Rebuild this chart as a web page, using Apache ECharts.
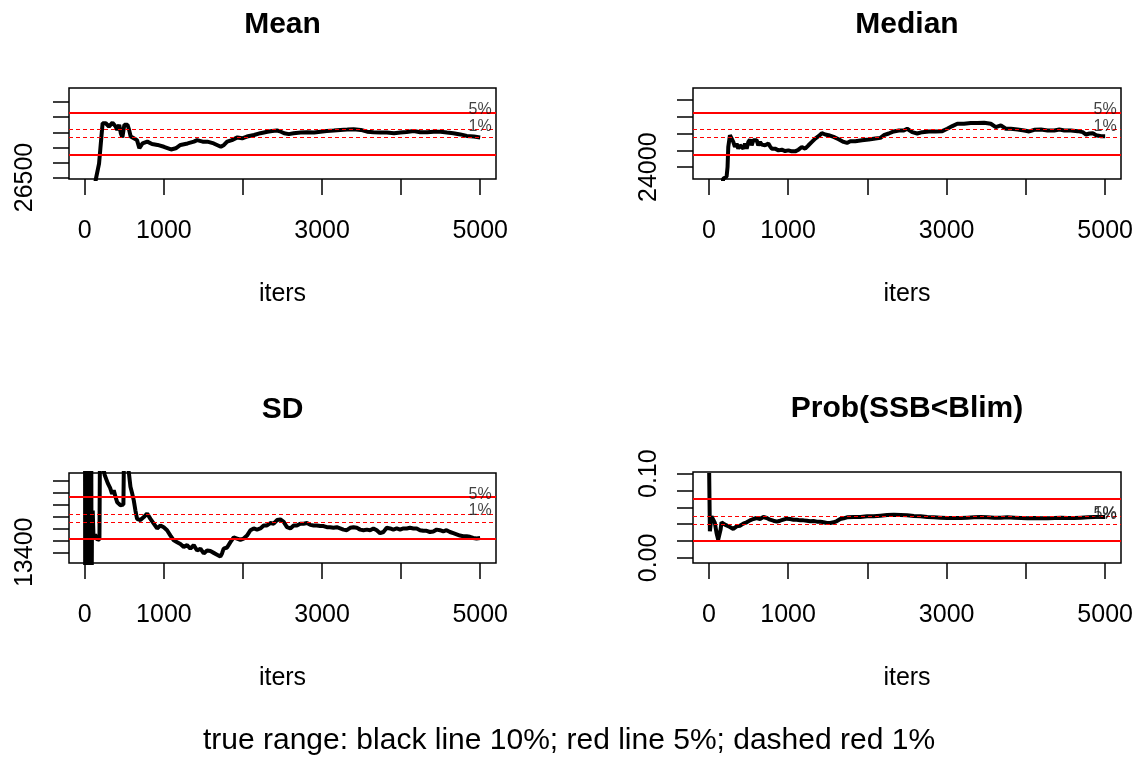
<!DOCTYPE html>
<html>
<head>
<meta charset="utf-8">
<title>true range</title>
<script src="https://cdn.jsdelivr.net/npm/echarts@6.0.0/dist/echarts.min.js"></script>
<style>
  html, body { margin: 0; padding: 0; background: #fff; }
  #main { width: 1138px; height: 757px; }
</style>
</head>
<body>
<div id="main"></div>
<script>
const FONT = '"Liberation Sans", Arial, sans-serif'

// x axis (iters)
const iterTicks = [0, 1000, 2000, 3000, 4000, 5000]
const iterLabels = [0, 1000, 3000, 5000]

// Mean
const meanTicks = [26500, 27000, 27500, 28000, 28500, 29000]
const meanLabels = [26500]
const meanRed = [27260, 28660]
const meanDash = [27820, 28100]
const meanPctAt = [28660, 28100]
const meanLine = [
  [120, 26100], [140, 26450], [180, 26960], [195, 27410], [210, 27860], [225, 28300], [245, 28320],
  [265, 28300], [285, 28360], [305, 28190], [330, 28250], [350, 28320], [370, 28300], [390, 28190],
  [410, 28080], [435, 28250], [455, 27970], [475, 27830], [500, 28250], [520, 28300], [540, 28250],
  [560, 28080], [580, 27860], [620, 27800], [660, 27740], [690, 27470], [730, 27630], [790, 27690],
  [850, 27610], [920, 27580], [1000, 27520], [1090, 27430], [1150, 27470], [1210, 27580], [1300, 27630],
  [1380, 27690], [1420, 27740], [1490, 27690], [1550, 27690], [1630, 27630], [1720, 27520], [1760, 27580],
  [1800, 27690], [1860, 27740], [1930, 27830], [1990, 27800], [2050, 27860], [2140, 27910], [2220, 27970],
  [2310, 28020], [2370, 28040], [2430, 28060], [2480, 28020], [2520, 27970], [2580, 27940], [2640, 27970],
  [2730, 27990], [2810, 28000], [2900, 27990], [2980, 28020], [3060, 28040], [3150, 28060], [3230, 28080],
  [3320, 28090], [3400, 28100], [3490, 28080], [3570, 28020], [3650, 28000], [3740, 27990], [3820, 27990],
  [3910, 27970], [3990, 27990], [4070, 28010], [4160, 28040], [4240, 28000], [4330, 28000], [4410, 28020],
  [4500, 28020], [4580, 27990], [4660, 27970], [4750, 27930], [4830, 27880], [4920, 27860], [5000, 27830]
]

// Median
const medTicks = [24000, 24500, 25000, 25500, 26000]
const medLabels = [24000]
const medRed = [24375, 25625]
const medDash = [24875, 25125]
const medPctAt = [25625, 25125]
const medLine = [
  [170, 23400], [181, 23660], [224, 23720], [236, 24010], [245, 24600], [266, 24950], [287, 24920],
  [308, 24750], [329, 24600], [350, 24700], [371, 24550], [392, 24650], [414, 24600], [435, 24550],
  [456, 24700], [477, 24550], [498, 24750], [519, 24820], [540, 24650], [561, 24800], [582, 24800],
  [603, 24800], [624, 24650], [646, 24750], [667, 24670], [688, 24620], [709, 24650], [730, 24700],
  [751, 24700], [772, 24620], [793, 24550], [835, 24550], [878, 24500], [920, 24520], [962, 24480],
  [1004, 24500], [1046, 24470], [1089, 24470], [1131, 24520], [1173, 24600], [1215, 24550], [1257, 24650],
  [1300, 24750], [1342, 24850], [1384, 24920], [1426, 25010], [1468, 24970], [1511, 24950], [1574, 24900],
  [1637, 24830], [1700, 24750], [1743, 24720], [1785, 24770], [1848, 24770], [1932, 24800], [2017, 24820],
  [2101, 24850], [2165, 24870], [2207, 24950], [2270, 25000], [2333, 25060], [2397, 25090], [2460, 25090],
  [2502, 25140], [2565, 25040], [2629, 25000], [2692, 25040], [2776, 25060], [2861, 25060], [2945, 25070],
  [3008, 25140], [3072, 25220], [3135, 25290], [3219, 25290], [3304, 25310], [3388, 25310], [3473, 25320],
  [3557, 25290], [3620, 25190], [3684, 25240], [3747, 25140], [3810, 25140], [3895, 25120], [3979, 25090],
  [4042, 25060], [4105, 25110], [4190, 25120], [4274, 25090], [4359, 25090], [4422, 25120], [4485, 25090],
  [4570, 25090], [4654, 25070], [4717, 25040], [4759, 24970], [4802, 25000], [4844, 25010], [4886, 24950],
  [4949, 24920], [5000, 24920]
]

// SD
const sdTicks = [13400, 13600, 13800, 14000, 14200, 14400, 14600]
const sdLabels = [13400]
const sdRed = [13626, 14324]
const sdDash = [13905, 14045]
const sdPctAt = [14324, 14045]
const sdLine = [
  [2, 16500], [6, 11000], [10, 16500], [14, 11000], [18, 16000], [22, 11500], [26, 16000], [30, 11000],
  [34, 15800], [38, 11500], [42, 15500], [46, 11800], [50, 15500], [54, 12000], [58, 15200], [62, 12000],
  [66, 15000], [70, 12200], [74, 15000], [78, 12300], [82, 14900], [86, 12500], [90, 13700], [100, 14100],
  [110, 13650], [130, 13700], [150, 13620], [185, 13610], [192, 15200], [225, 14900], [250, 14700],
  [290, 14560], [320, 14480], [345, 14380], [366, 14440], [388, 14330], [409, 14240], [430, 14270],
  [451, 14190], [472, 14220], [488, 14200], [495, 15000], [535, 14950], [560, 14700], [577, 14500],
  [600, 14380], [619, 14270], [640, 14100], [661, 13960], [703, 13940], [746, 13990], [788, 14050],
  [830, 13960], [872, 13880], [914, 13800], [956, 13850], [998, 13820], [1040, 13770], [1083, 13680],
  [1125, 13600], [1167, 13570], [1209, 13540], [1251, 13490], [1293, 13520], [1335, 13460], [1377, 13520],
  [1420, 13430], [1462, 13460], [1504, 13380], [1546, 13430], [1588, 13420], [1630, 13390], [1672, 13360],
  [1714, 13330], [1735, 13380], [1756, 13460], [1799, 13480], [1841, 13570], [1883, 13650], [1925, 13630],
  [1967, 13610], [2009, 13630], [2051, 13680], [2094, 13770], [2136, 13800], [2178, 13780], [2220, 13800],
  [2262, 13850], [2304, 13850], [2346, 13890], [2388, 13880], [2431, 13940], [2473, 13950], [2515, 13910],
  [2557, 13820], [2599, 13800], [2641, 13850], [2683, 13850], [2725, 13880], [2767, 13880], [2809, 13890],
  [2851, 13860], [2893, 13850], [2935, 13850], [2977, 13840], [3019, 13840], [3061, 13820], [3103, 13820],
  [3145, 13810], [3187, 13820], [3229, 13800], [3271, 13780], [3313, 13770], [3356, 13810], [3398, 13820],
  [3440, 13810], [3482, 13780], [3524, 13770], [3566, 13780], [3608, 13770], [3650, 13800], [3692, 13770],
  [3734, 13720], [3776, 13740], [3818, 13810], [3860, 13800], [3902, 13780], [3944, 13800], [3987, 13780],
  [4029, 13800], [4071, 13800], [4113, 13810], [4155, 13800], [4197, 13800], [4239, 13770], [4281, 13760],
  [4323, 13760], [4365, 13740], [4407, 13750], [4449, 13780], [4491, 13770], [4533, 13750], [4575, 13770],
  [4618, 13740], [4660, 13720], [4702, 13700], [4744, 13680], [4786, 13670], [4828, 13670], [4870, 13660],
  [4912, 13640], [4954, 13630], [5000, 13640]
]

// Prob(SSB<Blim)
const probTicks = [0, 0.02, 0.04, 0.06, 0.08, 0.1]
const probLabels = [0, 0.1]
const probRed = [0.023, 0.073]
const probDash = [0.043, 0.053]
const probPctAt = [0.0485, 0.0480]
const probLine = [
  [4, 0.1008], [13, 0.0316], [34, 0.0494], [55, 0.0486], [76, 0.0415], [97, 0.0296], [118, 0.0217],
  [131, 0.0237], [148, 0.0336], [160, 0.0423], [181, 0.0415], [203, 0.0395], [224, 0.0383], [266, 0.0367],
  [308, 0.0344], [329, 0.0355], [350, 0.0375], [392, 0.0383], [435, 0.0407], [477, 0.0423], [519, 0.0446],
  [561, 0.0462], [603, 0.0474], [646, 0.0462], [688, 0.0486], [730, 0.0474], [772, 0.0454], [814, 0.0442],
  [857, 0.0431], [899, 0.0442], [941, 0.0454], [983, 0.0466], [1025, 0.0462], [1068, 0.0454], [1110, 0.0454],
  [1152, 0.0446], [1194, 0.0446], [1236, 0.0442], [1278, 0.0435], [1321, 0.0438], [1363, 0.0431],
  [1405, 0.0431], [1447, 0.0423], [1489, 0.0415], [1532, 0.0415], [1574, 0.0423], [1616, 0.0438],
  [1658, 0.0462], [1700, 0.0470], [1743, 0.0482], [1827, 0.0486], [1911, 0.0486], [1996, 0.0494],
  [2080, 0.0494], [2165, 0.0502], [2249, 0.0510], [2333, 0.0514], [2418, 0.0510], [2502, 0.0506],
  [2586, 0.0498], [2671, 0.0494], [2755, 0.0486], [2840, 0.0482], [2924, 0.0478], [3008, 0.0474],
  [3093, 0.0474], [3177, 0.0474], [3262, 0.0478], [3346, 0.0482], [3430, 0.0486], [3515, 0.0482],
  [3599, 0.0478], [3684, 0.0478], [3768, 0.0482], [3852, 0.0478], [3937, 0.0474], [4021, 0.0470],
  [4105, 0.0474], [4190, 0.0470], [4274, 0.0470], [4359, 0.0474], [4443, 0.0478], [4527, 0.0474],
  [4612, 0.0474], [4696, 0.0478], [4781, 0.0482], [4865, 0.0486], [4949, 0.0486], [5000, 0.0486]
]

const pctNames = ['5%', '1%']

// panel layout: box = [left, top, width, height] of the plot region
const panels = [
  { title: 'Mean', box: [69, 88, 427, 91], yMin: 26450, yMax: 29470, ticks: meanTicks, labels: meanLabels,
    red: meanRed, dash: meanDash, pctAt: meanPctAt, line: meanLine, fmt: v => String(v) },
  { title: 'Median', box: [693, 88, 428, 91], yMin: 23650, yMax: 26350, ticks: medTicks, labels: medLabels,
    red: medRed, dash: medDash, pctAt: medPctAt, line: medLine, fmt: v => String(v) },
  { title: 'SD', box: [69, 473, 427, 90], yMin: 13220, yMax: 14730, ticks: sdTicks, labels: sdLabels,
    red: sdRed, dash: sdDash, pctAt: sdPctAt, line: sdLine, fmt: v => String(v) },
  { title: 'Prob(SSB<Blim)', box: [693, 472, 428, 91], yMin: -0.006, yMax: 0.102, ticks: probTicks, labels: probLabels,
    red: probRed, dash: probDash, pctAt: probPctAt, line: probLine, fmt: v => v.toFixed(2) }
]

const grid = []
const xAxis = []
const yAxis = []
const series = []
const graphic = []

const tickStyle = { color: '#000', width: 1.5 }
const textStyle = { fontSize: 25, color: '#000', fontFamily: FONT }

panels.forEach((p, i) => {
  grid.push({
    left: p.box[0], top: p.box[1], width: p.box[2], height: p.box[3],
    show: true, borderColor: '#000', borderWidth: 1.5, backgroundColor: 'transparent'
  })

  xAxis.push({
    gridIndex: i,
    type: 'value',
    position: 'bottom',
    min: -200,
    max: 5200,
    name: 'iters',
    nameLocation: 'middle',
    nameGap: 103,
    nameTextStyle: textStyle,
    axisLine: { show: false, onZero: false },
    splitLine: { show: false },
    axisTick: { show: true, inside: false, customValues: iterTicks, length: 16, lineStyle: tickStyle },
    axisLabel: { customValues: iterLabels, margin: 40, formatter: v => String(v), ...textStyle }
  })

  yAxis.push({
    gridIndex: i,
    type: 'value',
    position: 'left',
    min: p.yMin,
    max: p.yMax,
    axisLine: { show: false, onZero: false },
    splitLine: { show: false },
    axisTick: { show: true, inside: false, customValues: p.ticks, length: 16, lineStyle: tickStyle },
    axisLabel: { customValues: p.labels, rotate: 90, margin: 31, formatter: p.fmt, ...textStyle }
  })

  // 参考线：红色实线 5%，红色虚线 1%
  const refLines = [
    ...p.red.map(v => ({ yAxis: v, lineStyle: { color: '#ff0000', width: 2, type: 'solid' } })),
    ...p.dash.map(v => ({ yAxis: v, lineStyle: { color: '#ff0000', width: 1.2, type: [4, 3] } }))
  ]

  series.push({
    type: 'line',
    xAxisIndex: i,
    yAxisIndex: i,
    data: p.line,
    showSymbol: false,
    clip: true,
    color: '#000',
    lineStyle: { color: '#000', width: 4 },
    markLine: {
      silent: true,
      symbol: ['none', 'none'],
      label: { show: false },
      lineStyle: { color: '#ff0000', opacity: 1 },
      emphasis: { disabled: true },
      data: refLines
    }
  })

  // "5%" / "1%" text at the right end
  series.push({
    type: 'scatter',
    xAxisIndex: i,
    yAxisIndex: i,
    symbolSize: 1,
    itemStyle: { color: 'rgba(0,0,0,0)' },
    data: p.pctAt.map((v, k) => ({ value: [5000, v], name: pctNames[k] })),
    label: {
      show: true,
      formatter: '{b}',
      position: 'inside',
      offset: [0, -3],
      fontSize: 16,
      color: '#111',
      fontFamily: FONT
    },
    z: 5
  })

  graphic.push({
    type: 'text',
    x: p.box[0] + p.box[2] / 2,
    y: p.box[1] - 63,
    style: {
      text: p.title,
      fontSize: 30,
      fontWeight: 'bold',
      fontFamily: FONT,
      fill: '#000',
      align: 'center',
      verticalAlign: 'middle'
    }
  })
})

graphic.push({
  type: 'text',
  x: 569,
  y: 741,
  style: {
    text: 'true range: black line 10%; red line 5%; dashed red 1%',
    fontSize: 30,
    fontFamily: FONT,
    fill: '#000',
    align: 'center',
    verticalAlign: 'middle'
  }
})

const chart = echarts.init(document.getElementById('main'))
chart.setOption({
  animation: false,
  backgroundColor: '#fff',
  grid,
  xAxis,
  yAxis,
  series,
  graphic
})

window.addEventListener('resize', () => chart.resize())
</script>
</body>
</html>
